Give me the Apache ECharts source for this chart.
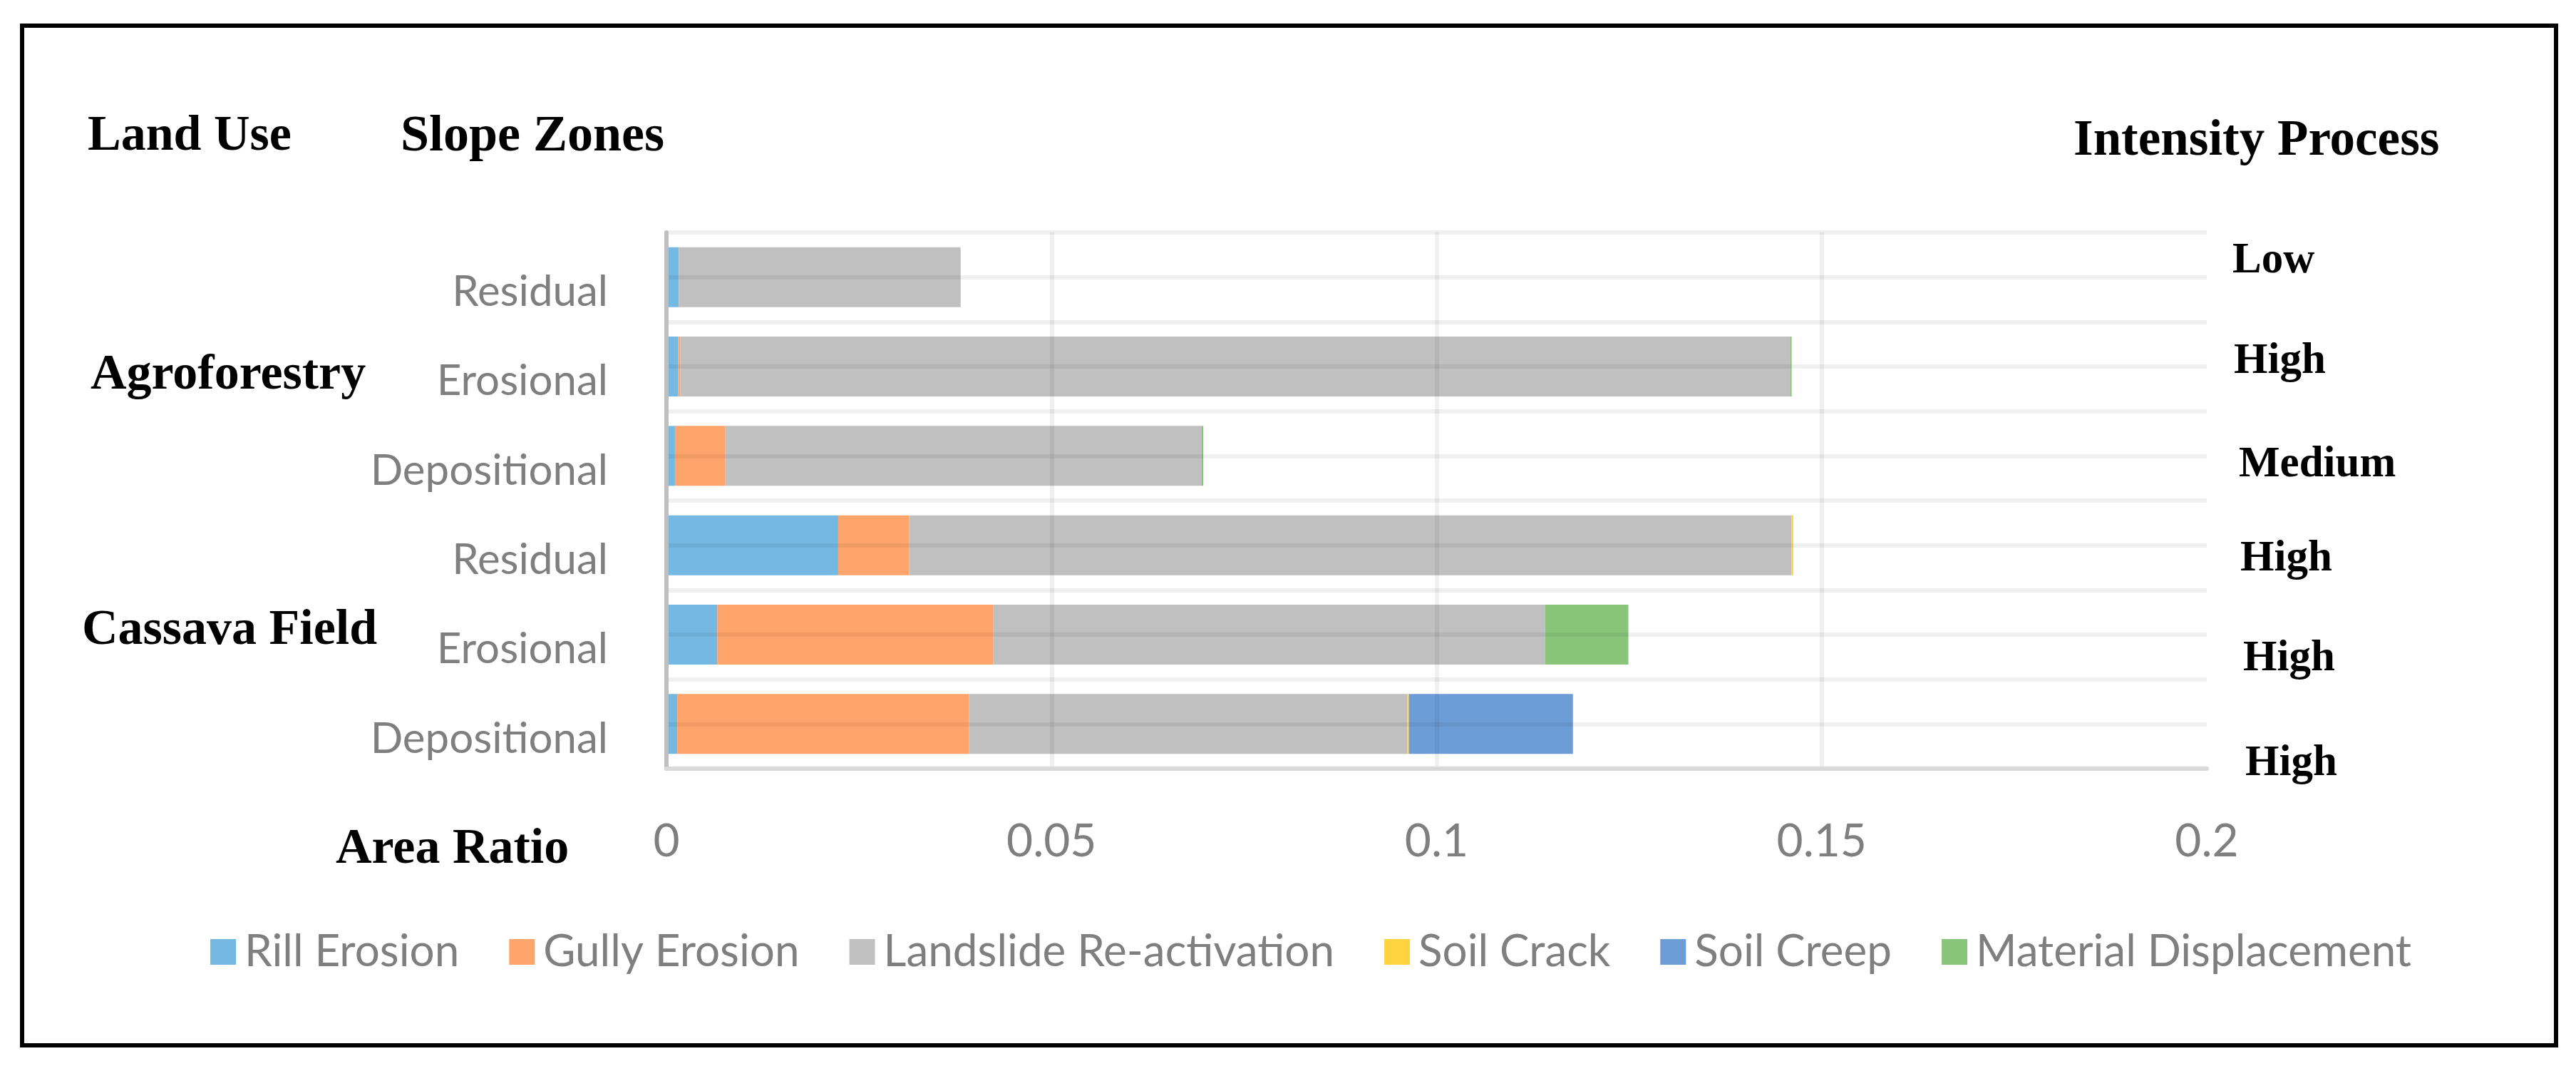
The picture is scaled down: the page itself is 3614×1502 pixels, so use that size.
<!DOCTYPE html>
<html>
<head>
  <meta charset="utf-8">
  <title>Area Ratio by Slope Zone</title>
  <script src="https://cdn.jsdelivr.net/npm/echarts@6/dist/echarts.min.js"></script>
  <style>
    html, body { margin: 0; padding: 0; background: #fff; }
    #chart { width: 3614px; height: 1502px; }
  </style>
</head>
<body>
  <div id="chart"></div>

  <script>
    // 数据（从上到下）
    let categories = ['Residual', 'Erosional', 'Depositional', 'Residual', 'Erosional', 'Depositional'];
    let landUse = ['Agroforestry', 'Cassava Field'];
    let intensity = ['Low', 'High', 'Medium', 'High', 'High', 'High'];
    let xTicks = [0, 0.05, 0.1, 0.15, 0.2];

    let rillErosion = [0.0016, 0.0015, 0.0011, 0.0223, 0.0066, 0.0014];
    let gullyErosion = [0, 0.0003, 0.0065, 0.0092, 0.0358, 0.0379];
    let landslideReactivation = [0.0366, 0.1441, 0.0619, 0.1146, 0.0717, 0.0569];
    let soilCrack = [0, 0, 0, 0.0002, 0, 0.0002];
    let soilCreep = [0, 0, 0, 0, 0, 0.0213];
    let materialDisplacement = [0, 0.0002, 0.0002, 0, 0.0108, 0];

    let seriesNames = ['Rill Erosion', 'Gully Erosion', 'Landslide Re-activation', 'Soil Crack', 'Soil Creep', 'Material Displacement'];
    let seriesData = [rillErosion, gullyErosion, landslideReactivation, soilCrack, soilCreep, materialDisplacement];
    let colorList = ['#75b8e2', '#ffa46b', '#c0c0c0', '#ffd33f', '#6d9dd6', '#88c57b'];

    // 半格的横线用第二个类目轴画
    let halfRows = [];
    for (let i = 0; i < categories.length * 2; i++) {
      halfRows.push('');
    }

    let serif = '"Liberation Serif", "Times New Roman", serif';
    let sans = 'Lato, "Open Sans", sans-serif';

    let series = [];
    for (let i = 0; i < seriesNames.length; i++) {
      series.push({
        name: seriesNames[i],
        type: 'bar',
        stack: 'total',
        barWidth: 84,
        yAxisIndex: 0,
        itemStyle: { color: colorList[i] },
        data: seriesData[i]
      });
    }

    let texts = [];
    function addText(str, x, y, size) {
      texts.push({
        type: 'text',
        x: x,
        y: y,
        style: {
          text: str,
          fill: '#000',
          font: 'bold ' + size + 'px ' + serif,
          align: 'left',
          verticalAlign: 'middle'
        }
      });
    }
    addText('Land Use', 123, 192, 70);
    addText('Slope Zones', 562, 192, 72);
    addText('Intensity Process', 2909, 199, 71);
    addText('Area Ratio', 471, 1192, 70);
    addText(landUse[0], 127, 527, 70);
    addText(landUse[1], 115, 885, 70);
    let intX = [3132, 3134, 3141, 3143, 3147, 3150];
    let intY = [366, 507, 652, 784, 924, 1071];
    for (let i = 0; i < intensity.length; i++) {
      addText(intensity[i], intX[i], intY[i], 61);
    }

    let myChart = echarts.init(document.getElementById('chart'));
    let option = {
      animation: false,
      backgroundColor: '#fff',
      grid: {
        left: 935,
        right: 518,
        top: 326,
        bottom: 424,
        containLabel: false,
        outerBoundsMode: 'none'
      },
      legend: {
        left: 290,
        top: 1299,
        icon: 'rect',
        itemWidth: 36,
        itemHeight: 36,
        itemGap: 70,
        textStyle: {
          fontFamily: sans,
          fontSize: 62,
          color: '#7f7f7f',
          padding: [0, 0, 0, 7]
        },
        data: seriesNames
      },
      xAxis: {
        type: 'value',
        min: xTicks[0],
        max: xTicks[xTicks.length - 1],
        interval: xTicks[1] - xTicks[0],
        z: 5,
        axisLine: { show: true, lineStyle: { color: '#d9d9d9', width: 6 } },
        axisTick: { show: false },
        axisLabel: {
          fontFamily: sans,
          fontSize: 64,
          color: '#7f7f7f',
          margin: 70
        },
        splitLine: {
          show: true,
          showMinLine: false,
          showMaxLine: false,
          lineStyle: { color: 'rgba(0,0,0,0.06)', width: 6 }
        }
      },
      yAxis: [
        {
          type: 'category',
          inverse: true,
          data: categories,
          z: 5,
          axisLine: { show: true, lineStyle: { color: '#bfbfbf', width: 6 } },
          axisTick: { show: false },
          splitLine: { show: false },
          axisLabel: {
            fontFamily: sans,
            fontSize: 60,
            color: '#7f7f7f',
            margin: 82,
            verticalAlign: 'top',
            lineHeight: 42
          }
        },
        {
          type: 'category',
          inverse: true,
          position: 'left',
          data: halfRows,
          z: 4,
          axisLine: { show: false },
          axisTick: { show: false },
          axisLabel: { show: false },
          splitLine: {
            show: true,
            lineStyle: { color: 'rgba(0,0,0,0.06)', width: 6 }
          }
        }
      ],
      graphic: [
        {
          type: 'rect',
          shape: { x: 31, y: 36, width: 3555, height: 1430 },
          style: { fill: 'none', stroke: '#000', lineWidth: 6 },
          silent: true
        }
      ].concat(texts),
      series: series
    };
    myChart.setOption(option);
  </script>
</body>
</html>
